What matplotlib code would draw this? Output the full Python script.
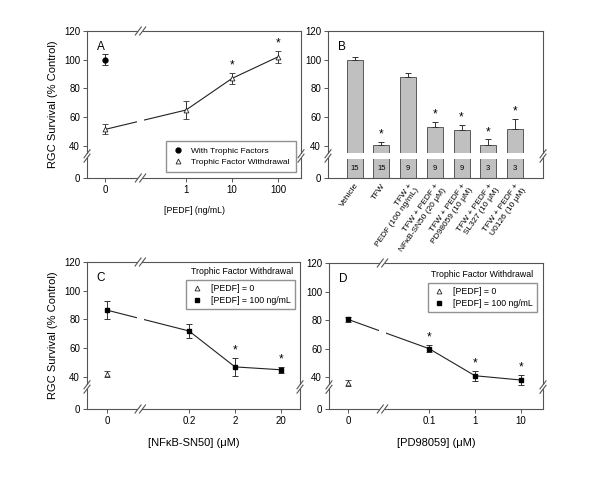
import numpy as np
import matplotlib
matplotlib.use("Agg")
import matplotlib.pyplot as plt
from matplotlib.patches import Rectangle

plt.rcParams['font.family'] = ['Liberation Sans', 'DejaVu Sans']

### DATA

# A: PEDF dose response
a_x = [0, 1, 10, 100]
a_tfw = [51.5, 65, 87, 102]
a_tfw_err = [3.5, 6, 4, 4]
a_with_x = [0]
a_with = [100]
a_with_err = [4]
a_star = [10, 100]

# B: inhibitors
b_labels = ["Vehicle", "TFW", "TFW +\nPEDF (100 ng/mL)",
            "TFW + PEDF +\nNFκB-SN50 (20 μM)", "TFW + PEDF +\nPD98059 (10 μM)",
            "TFW + PEDF +\nSL327 (10 μM)", "TFW + PEDF +\nU0126 (10 μM)"]
b_vals = [100, 41, 88, 53, 51, 41, 52]
b_err = [2, 1.5, 2.5, 3.5, 3.5, 3.5, 6.5]
b_n = [15, 15, 9, 9, 9, 3, 3]
b_star = [False, True, False, True, True, True, True]

# C: NFkB-SN50
c_x = [0, 0.2, 2, 20]
c_pedf = [86.5, 72, 47, 45]
c_pedf_err = [6.5, 5, 6, 2]
c_zero_x = [0]
c_zero = [42]
c_zero_err = [2]
c_star = [2, 20]

# D: PD98059
d_x = [0, 0.1, 1, 10]
d_pedf = [80.5, 60, 41, 38]
d_pedf_err = [1.5, 2.5, 3.5, 3.5]
d_zero_x = [0]
d_zero = [36]
d_zero_err = [2]
d_star = [0.1, 1, 10]

yticks = [0, 40, 60, 80, 100, 120]

### SCALES (broken axes)
Y0 = 17.7
YB = 30.0

def yf(v):
    v = np.asarray(v, float)
    return np.where(v >= YB, v, Y0 + v * (YB - Y0) / YB)

def yi(u):
    u = np.asarray(u, float)
    return np.where(u >= YB, u, (u - Y0) * YB / (YB - Y0))

def xscale(first, z0):
    lf = np.log10(first)
    def fwd(x):
        x = np.asarray(x, float)
        return np.where(x >= first, np.log10(np.maximum(x, first)),
                        z0 + (lf - z0) * x / first)
    def inv(z):
        z = np.asarray(z, float)
        return np.where(z >= lf, np.power(10.0, np.clip(z, -20, 20)),
                        first * (z - z0) / (lf - z0))
    return fwd, inv

W_FIG, H_FIG = 600, 501
fig = plt.figure(figsize=(6.0, 5.01), dpi=100)

def add_ax(left, top, right, bottom):
    return fig.add_axes([left / W_FIG, 1 - bottom / H_FIG,
                         (right - left) / W_FIG, (bottom - top) / H_FIG])

SPC = '#555555'

def style(ax):
    for s in ax.spines.values():
        s.set_color(SPC)
        s.set_linewidth(0.8)
    ax.tick_params(direction='out', length=3, width=0.7, color=SPC,
                   labelsize=7, pad=2)
    ax.set_yscale('function', functions=(yf, yi))
    ax.set_ylim(0, 120)
    ax.set_yticks(yticks)
    ax.set_yticklabels([str(t) for t in yticks])
    ax.minorticks_off()

def breaks(ax, xfrac=None, yfrac=0.15):
    bb = ax.get_position()
    W = bb.width * W_FIG
    H = bb.height * H_FIG
    g, dx, dy = 2.2, 3.0, 4.0
    kw = dict(transform=ax.transAxes, clip_on=False, color=SPC, lw=0.8, zorder=6)
    if xfrac is not None:
        for yy in (0, 1):
            ax.add_patch(Rectangle((xfrac - g / W, yy - 2 / H), 2 * g / W, 4 / H,
                                   transform=ax.transAxes, clip_on=False,
                                   fc='white', ec='none', zorder=5))
            for s in (-g, g):
                cx = xfrac + s / W
                ax.plot([cx - dx / W, cx + dx / W], [yy - dy / H, yy + dy / H], **kw)
    for xx in (0, 1):
        ax.add_patch(Rectangle((xx - 2 / W, yfrac - g / H), 4 / W, 2 * g / H,
                               transform=ax.transAxes, clip_on=False,
                               fc='white', ec='none', zorder=5))
        for s in (-g, g):
            cy = yfrac + s / H
            ax.plot([xx - dx / W, xx + dx / W], [cy - dy / H, cy + dy / H], **kw)

def line_gap(ax, xfrac):
    bb = ax.get_position()
    W = bb.width * W_FIG
    ax.add_patch(Rectangle((xfrac - 3.5 / W, 0), 7 / W, 1, transform=ax.transAxes,
                           fc='white', ec='none', zorder=2.2))

EB = dict(capsize=2.2, elinewidth=0.7, capthick=0.7, ecolor='#333333', ls='none', zorder=3)

def stars(ax, xs, allx, vals, errs):
    for x in xs:
        i = allx.index(x)
        ax.text(x, vals[i] + errs[i] + 1.0, '*', ha='center', va='bottom', fontsize=8.5)

### PANEL A
axA = add_ax(87, 31, 301, 178)
style(axA)
fA, iA = xscale(1, -81 / 46)
axA.set_xscale('function', functions=(fA, iA))
axA.set_xlim(*iA([(87 - 186) / 46, (301 - 186) / 46]))
axA.set_xticks(a_x)
axA.set_xticklabels(['0', '1', '10', '100'])
axA.plot(a_x, a_tfw, color='#222222', lw=0.8, zorder=2)
line_gap(axA, 0.25)
axA.errorbar(a_with_x, a_with, yerr=a_with_err, marker='o', ms=3.5, mfc='black',
             mec='black', label='With Trophic Factors', **EB)
axA.errorbar(a_x, a_tfw, yerr=a_tfw_err, marker='^', ms=3.5, mfc='white',
             mec='#222222', mew=0.6, label='Trophic Factor Withdrawal', **EB)
stars(axA, a_star, a_x, a_tfw, a_tfw_err)
h, l = axA.get_legend_handles_labels()
h = [x[0] for x in h]
axA.legend(h, l, loc='lower right', bbox_to_anchor=(0.977, 0.041), borderaxespad=0,
           fontsize=6, frameon=True, fancybox=False, edgecolor='#777777',
           handlelength=1.5, borderpad=0.75, labelspacing=0.35).set_zorder(7)
axA.text(0.045, 0.93, 'A', transform=axA.transAxes, fontsize=8.5, va='top')
axA.set_ylabel('RGC Survival (% Control)', fontsize=8)
axA.set_xlabel('[PEDF] (ng/mL)', fontsize=6.3, labelpad=8)
breaks(axA, 0.25)

### PANEL B
axB = add_ax(328, 31, 543, 178)
style(axB)
xb = np.arange(len(b_vals))
axB.bar(xb, b_vals, width=0.6, color='#c0c0c0', edgecolor='#444444', lw=0.6, zorder=2)
axB.errorbar(xb, b_vals, yerr=[np.zeros(len(b_err)), b_err], **EB)
axB.add_patch(Rectangle((0, 31.0), 1, 4.1, transform=axB.get_yaxis_transform(),
                        fc='white', ec='none', zorder=2.5))
for i in range(len(b_vals)):
    axB.text(xb[i], 0.065, str(b_n[i]), transform=axB.get_xaxis_transform(),
             ha='center', va='center', fontsize=5.5)
    if b_star[i]:
        axB.text(xb[i], b_vals[i] + b_err[i] + 1.0, '*', ha='center', va='bottom',
                 fontsize=8.5)
axB.set_xlim(-1.0, 7.05)
axB.set_xticks(xb)
axB.set_xticklabels(b_labels, rotation=55, ha='right', va='top',
                    rotation_mode='anchor', multialignment='right', fontsize=6)
axB.tick_params(axis='x', length=0, pad=3)
axB.text(0.045, 0.93, 'B', transform=axB.transAxes, fontsize=8.5, va='top')
breaks(axB, None)

### PANELS C, D
def dose_panel(ax, xs, xl, first, z0, zl, zr, vals, errs, zx, zv, ze, st, lab, xlabel,
               ylab, tx, box):
    style(ax)
    f, inv = xscale(first, z0)
    ax.set_xscale('function', functions=(f, inv))
    ax.set_xlim(*inv([zl, zr]))
    ax.set_xticks(xs)
    ax.set_xticklabels(xl)
    ax.plot(xs, vals, color='#222222', lw=0.8, zorder=2)
    line_gap(ax, 0.25)
    ax.errorbar(zx, zv, yerr=ze, marker='^', ms=3.5, mfc='white', mec='#222222',
                mew=0.6, label='[PEDF] = 0', **EB)
    ax.errorbar(xs, vals, yerr=errs, marker='s', ms=3.3, mfc='black', mec='black',
                label='[PEDF] = 100 ng/mL', **EB)
    stars(ax, st, xs, vals, errs)
    h, l = ax.get_legend_handles_labels()
    h = [x[0] for x in h]
    ax.legend(h, l, loc='upper right', bbox_to_anchor=box, borderaxespad=0,
              fontsize=6.3, frameon=True, fancybox=False, edgecolor='#777777',
              handlelength=1.5, borderpad=0.5, labelspacing=0.3).set_zorder(7)
    ax.text(tx[0], tx[1], 'Trophic Factor Withdrawal', transform=ax.transAxes,
            ha='center', va='center', fontsize=6.3)
    ax.text(0.045, 0.93, lab, transform=ax.transAxes, fontsize=8.5, va='top')
    if ylab:
        ax.set_ylabel('RGC Survival (% Control)', fontsize=8)
    ax.set_xlabel(xlabel, fontsize=8, labelpad=9)
    breaks(ax, 0.25)

axC = add_ax(87, 262, 300, 409)
dose_panel(axC, c_x, ['0', '0.2', '2', '20'], 0.2, np.log10(0.2) - 82 / 46,
           np.log10(0.2) + (87 - 189) / 46, np.log10(0.2) + (300 - 189) / 46,
           c_pedf, c_pedf_err, c_zero_x, c_zero, c_zero_err, c_star, 'C',
           '[NFκB-SN50] (μM)', True, (0.728, 0.932), (0.976, 0.878))

axD = add_ax(329, 263, 543, 409)
dose_panel(axD, d_x, ['0', '0.1', '1', '10'], 0.1, -1 - 81 / 46,
           -1 + (329 - 429) / 46, -1 + (543 - 429) / 46,
           d_pedf, d_pedf_err, d_zero_x, d_zero, d_zero_err, d_star, 'D',
           '[PD98059] (μM)', False, (0.717, 0.918), (0.972, 0.864))

fig.savefig('out.png', dpi=100)
